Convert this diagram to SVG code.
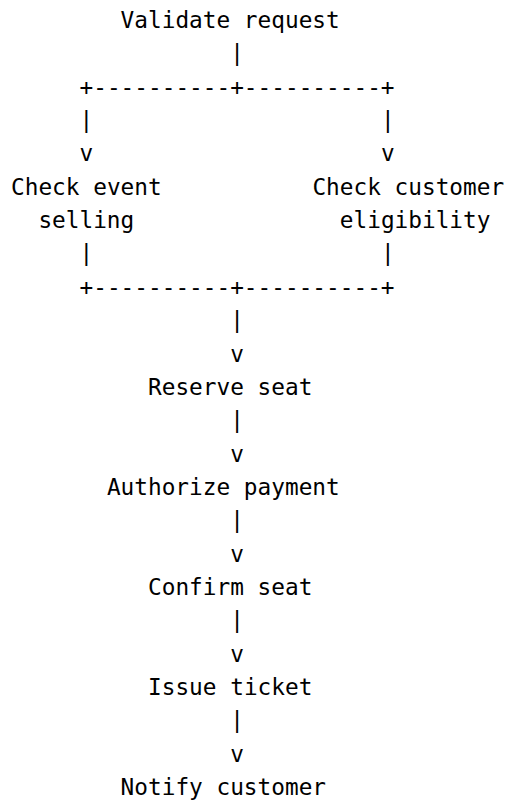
<svg xmlns="http://www.w3.org/2000/svg" width="506" height="805" viewBox="0 0 506 805">
<style>
text{font-family:"DejaVu Sans Mono","Liberation Mono",monospace;font-size:22.75px;fill:#000;white-space:pre}
</style>
<rect width="506" height="805" fill="#fff"/>
<g id="connectors">
<text x="230.2" y="61.35">|</text>
<text x="79.5" y="94.7">+----------+----------+</text>
<text x="79.5" y="128.05">|</text><text x="380.9" y="128.05">|</text>
<text x="79.5" y="161.4">v</text><text x="380.9" y="161.4">v</text>
<text x="79.5" y="261.45">|</text><text x="380.9" y="261.45">|</text>
<text x="79.5" y="294.8">+----------+----------+</text>
<text x="230.2" y="328.15">|</text>
<text x="230.2" y="361.5">v</text>
<text x="230.2" y="428.2">|</text>
<text x="230.2" y="461.55">v</text>
<text x="230.2" y="528.25">|</text>
<text x="230.2" y="561.6">v</text>
<text x="230.2" y="628.3">|</text>
<text x="230.2" y="661.65">v</text>
<text x="230.2" y="728.35">|</text>
<text x="230.2" y="761.7">v</text>
</g>
<g id="validate"><text x="120.6" y="28">Validate request</text></g>
<g id="check-event"><text x="11" y="194.75">Check event</text><text x="38.4" y="228.1">selling</text></g>
<g id="check-customer"><text x="312.4" y="194.75">Check customer</text><text x="339.8" y="228.1">eligibility</text></g>
<g id="reserve"><text x="148" y="394.85">Reserve seat</text></g>
<g id="authorize"><text x="106.9" y="494.9">Authorize payment</text></g>
<g id="confirm"><text x="148" y="594.95">Confirm seat</text></g>
<g id="issue"><text x="148" y="695">Issue ticket</text></g>
<g id="notify"><text x="120.6" y="795.05">Notify customer</text></g>
</svg>
